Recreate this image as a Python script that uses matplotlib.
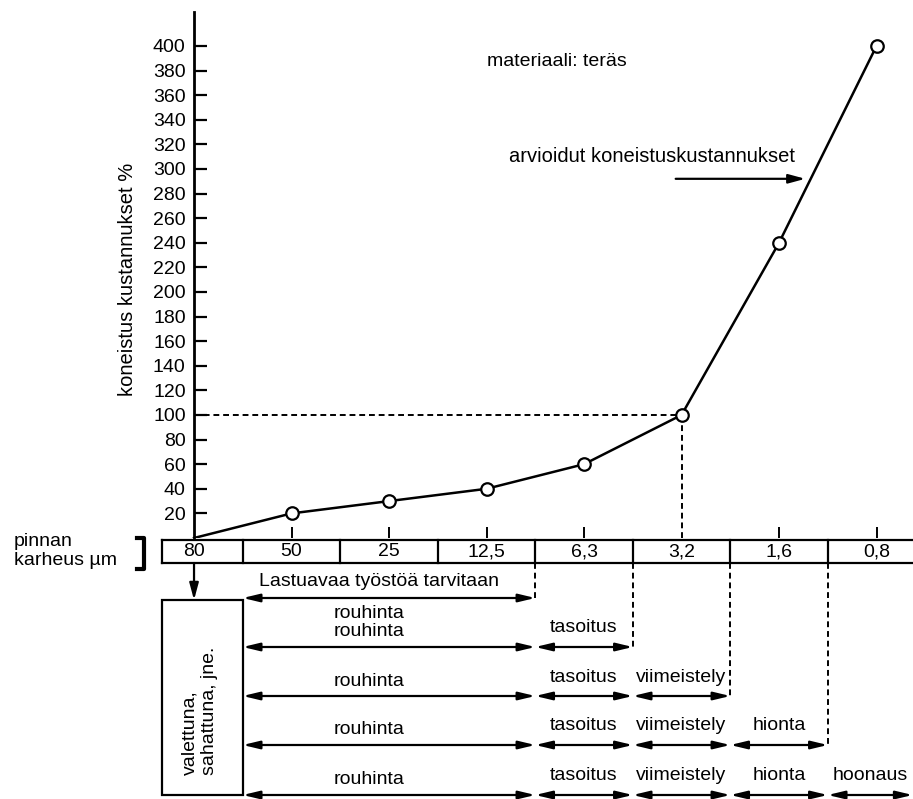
import matplotlib.pyplot as plt
from matplotlib.patches import Rectangle

plt.rcParams['font.family'] = ['Liberation Sans', 'DejaVu Sans']

roughness = ['80', '50', '25', '12,5', '6,3', '3,2', '1,6', '0,8']
cost = [0, 20, 30, 40, 60, 100, 240, 400]
yticks = list(range(20, 401, 20))

processes = ['rouhinta', 'tasoitus', 'viimeistely', 'hionta', 'hoonaus']
proc_start = [0.5, 3.5, 4.5, 5.5, 6.5]
proc_end = [3.5, 4.5, 5.5, 6.5, 7.37]

FS = 14
XL = (-1.99, 7.374)
fig = plt.figure(figsize=(9.13, 7.99), dpi=100)

# background axes for the roughness table and process diagram (pixel-like y)
bg = fig.add_axes([0, 0, 1, 1])
bg.set_xlim(*XL)
bg.set_ylim(799, 0)
bg.axis('off')

# main cost chart
ax = fig.add_axes([0, 1 - 538 / 799, 1, 526 / 799])
ax.set_facecolor('none')
ax.set_xlim(*XL)
ax.set_ylim(0, 427.6)
for s in ['top', 'right', 'bottom']:
    ax.spines[s].set_visible(False)
ax.spines['left'].set_position(('data', 0))
ax.spines['left'].set_linewidth(2)
ax.set_yticks(yticks)
ax.tick_params(axis='y', direction='in', length=9, width=1.6, pad=6, labelsize=FS)
ax.set_xticks([1, 2, 3, 4, 6, 7])
ax.set_xticklabels([])
ax.tick_params(axis='x', direction='in', length=8, width=1.4)

xs = list(range(len(cost)))
ax.plot(xs, cost, color='black', lw=1.8, zorder=3)
ax.plot(xs[1:], cost[1:], 'o', ms=9, mfc='white', mec='black', mew=1.6, zorder=4)
ax.plot([0, 5], [100, 100], '--', color='black', lw=1.4, dashes=(3, 2))
ax.plot([5, 5], [0, 100], '--', color='black', lw=1.4, dashes=(3, 2))

ax.text(-0.68, 210, 'koneistus kustannukset %', rotation=90, ha='center', va='center', fontsize=FS + 0.5)
ax.text(3.0, 387, 'materiaali: teräs', ha='left', va='center', fontsize=FS)
ax.text(3.23, 310, 'arvioidut koneistuskustannukset', ha='left', va='center', fontsize=FS + 0.5)
ax.annotate('', xy=(6.27, 292), xytext=(4.94, 292),
            arrowprops=dict(arrowstyle='-|>,head_length=1.0,head_width=0.27', color='black',
                            lw=1.6, shrinkA=0, shrinkB=0))

# roughness table
top, bot = 540, 563
bg.plot([-0.33, XL[1]], [top, top], color='black', lw=1.6)
bg.plot([-0.33, XL[1]], [bot, bot], color='black', lw=1.6)
bg.plot([-0.33, -0.33], [top, bot], color='black', lw=1.6)
for i, lab in enumerate(roughness):
    bg.text(i, 552, lab, ha='center', va='center', fontsize=FS)
    if i < len(roughness) - 1:
        bg.plot([i + 0.5, i + 0.5], [top, bot], color='black', lw=1.6)

bg.text(-1.846, 551, 'pinnan\nkarheus µm', ha='left', va='center', fontsize=FS, linespacing=1.15)
bg.plot([-0.58, -0.51, -0.51, -0.58], [538, 538, 569, 569], color='black', lw=3)

# cast / sawn box
bg.add_patch(Rectangle((-0.33, 600), 0.83, 195, fill=False, ec='black', lw=1.6))
bg.text(0.06, 775, 'valettuna,\nsahattuna, jne.', rotation=90, ha='center', va='bottom',
        multialignment='left', fontsize=FS, linespacing=1.15)
bg.annotate('', xy=(0, 600), xytext=(0, bot),
            arrowprops=dict(arrowstyle='-|>,head_length=1.0,head_width=0.27', color='black',
                            lw=1.6, shrinkA=0, shrinkB=0))

arrow_style = dict(arrowstyle='<|-|>,head_length=1.0,head_width=0.24', color='black',
                   lw=1.6, shrinkA=0, shrinkB=0)
rows = [598, 647, 696, 745, 795]

# first row: machining needed
bg.annotate('', xy=(proc_start[1], rows[0]), xytext=(proc_start[0], rows[0]), arrowprops=arrow_style)
bg.text(1.9, 581, 'Lastuavaa työstöä tarvitaan', ha='center', va='center', fontsize=FS)
bg.text(1.8, 613, processes[0], ha='center', va='center', fontsize=FS)
bg.plot([proc_end[0], proc_end[0]], [bot, rows[0]], '--', color='black', lw=1.4, dashes=(3, 2))

for k in range(1, 5):
    y = rows[k]
    for p in range(k + 1):
        bg.annotate('', xy=(proc_end[p], y), xytext=(proc_start[p], y), arrowprops=arrow_style)
        if p == 0:
            bg.text(1.8, y - 15, processes[p], ha='center', va='center', fontsize=FS)
        else:
            mid = (proc_start[p] + proc_end[p]) / 2
            bg.text(mid, y - 19, processes[p], ha='center', va='center', fontsize=FS)
    if k < 4:
        bg.plot([proc_end[k], proc_end[k]], [bot, y], '--', color='black', lw=1.4, dashes=(3, 2))

fig.savefig('out.png', dpi=100)
